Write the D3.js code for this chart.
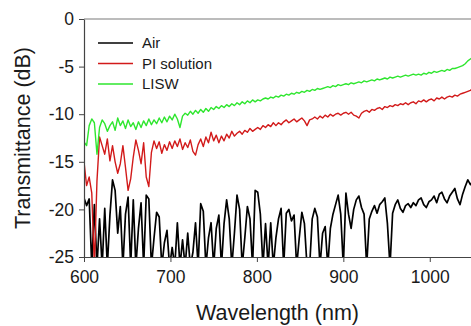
<!DOCTYPE html>
<html>
<head>
<meta charset="utf-8">
<script src="https://cdn.jsdelivr.net/npm/d3@7"></script>
<style>
  html, body { margin: 0; padding: 0; background: #fff; }
  svg { display: block; font-family: "Liberation Sans", Arial, sans-serif; }
</style>
</head>
<body>
<div id="chart"></div>
<script>
// sampling grid (nm)
const wavelength = [
  600, 603, 606, 609, 612, 615, 618, 621, 624, 627,
  630, 633, 636, 639, 642, 645, 648, 651, 654, 657,
  660, 663, 666, 669, 672, 675, 678, 681, 684, 687,
  690, 693, 696, 699, 702, 705, 708, 711, 714, 717,
  720, 723, 726, 729, 732, 735, 738, 741, 744, 747,
  750, 753, 756, 759, 762, 765, 768, 771, 774, 777,
  780, 783, 786, 789, 792, 795, 798, 801, 804, 807,
  810, 813, 816, 819, 822, 825, 828, 831, 834, 837,
  840, 843, 846, 849, 852, 855, 858, 861, 864, 867,
  870, 873, 876, 879, 882, 885, 888, 891, 894, 897,
  900, 903, 906, 909, 912, 915, 918, 921, 924, 927,
  930, 933, 936, 939, 942, 945, 948, 951, 954, 957,
  960, 963, 966, 969, 972, 975, 978, 981, 984, 987,
  990, 993, 996, 999, 1002, 1005, 1008, 1011, 1014, 1017,
  1020, 1023, 1026, 1029, 1032, 1035, 1038, 1041, 1044, 1047,
  1050
];

// transmittance (dB)
const air = [
  -18.8, -19.6, -18.9, -26, -19.5, -26, -21.0, -26, -19.9, -26,
  -20.6, -16.9, -18.0, -22.5, -19.7, -26, -20.5, -18.7, -26, -19.0,
  -26, -22.0, -19.3, -26, -18.5, -18.9, -26, -23.0, -20.3, -20.8,
  -26, -23.5, -22.2, -26, -24.0, -26, -21.4, -26, -23.2, -26,
  -22.5, -26, -24.5, -21.4, -26, -19.4, -20.2, -26, -23.0, -21.4,
  -26, -22.0, -20.6, -26, -21.5, -19.0, -21.0, -26, -22.5, -18.5,
  -20.0, -26, -23.0, -19.7, -21.0, -26, -18.0, -18.2, -20.5, -26,
  -21.5, -26, -21.4, -26, -23.0, -21.0, -19.9, -26, -20.4, -20.0,
  -21.2, -20.6, -26, -23.0, -20.3, -21.5, -26, -26, -21.0, -19.9,
  -20.8, -26, -22.5, -21.8, -26, -22.0, -20.5, -19.5, -18.5, -20.5,
  -26, -18.3, -20.5, -22.0, -20.0, -19.0, -18.6, -19.8, -20.5, -26,
  -21.0, -20.2, -19.6, -20.4, -19.5, -19.2, -18.8, -21.5, -26, -20.4,
  -19.5, -19.0, -19.9, -20.3, -19.6, -19.4, -19.8, -19.3, -19.6, -19.0,
  -18.8, -19.5, -19.8, -19.2, -19.0, -18.6, -19.3, -18.4, -18.2, -18.9,
  -19.3, -18.6, -18.2, -17.8, -18.9, -19.5, -18.4, -17.6, -16.9, -17.4,
  -17.0
];

const piSolution = [
  -15.0, -17.5, -16.6, -18.3, -26, -17.0, -12.4, -13.3, -14.2, -12.6,
  -14.9, -13.3, -15.0, -16.2, -15.2, -13.3, -15.6, -18.0, -16.8, -14.5,
  -12.7, -13.8, -15.2, -13.0, -16.6, -17.6, -14.0, -12.8, -13.6, -12.9,
  -14.1, -13.2, -13.8, -12.9, -13.6, -12.8, -13.4, -12.6, -13.7, -13.0,
  -13.5, -12.7, -13.9, -14.3, -13.2, -12.6, -13.4, -12.4, -13.0, -11.9,
  -12.8, -12.2, -13.0, -12.3, -12.8, -12.1, -12.5, -11.8, -12.3, -12.0,
  -11.8, -12.1, -11.7, -11.9, -11.5, -11.8, -11.6, -11.4, -11.6, -11.2,
  -11.4, -11.1, -11.3, -10.9, -11.2, -10.9, -11.1, -10.8, -10.6, -10.9,
  -10.7, -10.5, -10.8, -10.6, -10.4, -10.7, -11.2, -10.6, -10.5, -10.3,
  -10.5, -10.2, -10.4, -10.1, -10.3, -10.0, -10.2, -10.0, -9.9, -10.1,
  -9.9, -9.8, -10.0, -9.8, -10.1, -10.2, -10.4, -9.9, -9.7, -9.6,
  -9.8, -9.5, -9.6, -9.4, -9.3, -9.5, -9.2, -9.3, -9.1, -9.2,
  -9.0, -9.1, -8.9, -9.0, -8.8, -9.0, -8.8, -8.7, -8.9, -8.6,
  -8.7, -8.5, -8.7, -8.5, -8.4, -8.6, -8.3, -8.4, -8.2, -8.4,
  -8.2, -8.1, -8.2, -8.0, -8.1, -7.9, -7.8, -7.7, -7.6, -7.5,
  -7.3
];

const lisw = [
  -12.9, -13.3, -11.2, -10.5, -10.9, -14.2, -11.4, -10.6, -11.0, -11.8,
  -11.2, -10.8, -11.7, -10.4, -11.2, -10.7, -11.5, -10.6, -11.3, -10.9,
  -11.6, -10.8, -11.4, -10.7, -11.2, -10.5, -11.1, -10.6, -11.0, -10.4,
  -10.9, -10.3, -10.8, -10.2, -10.6, -10.0, -10.5, -11.4, -10.2, -9.9,
  -10.1, -9.7, -10.0, -9.6, -9.9, -9.5, -9.8, -9.4, -9.7, -9.3,
  -9.5, -9.2, -9.4, -9.1, -9.3, -9.0, -9.2, -8.9, -9.1, -8.8,
  -9.0, -8.7, -8.9, -8.6, -8.8, -8.5, -8.7, -8.5, -8.6, -8.4,
  -8.3, -8.4, -8.2, -8.3, -8.1, -8.2, -8.0, -8.1, -7.9, -8.0,
  -7.8, -7.9, -7.7, -7.8, -7.6, -7.7, -7.5, -7.6, -7.4, -7.5,
  -7.3, -7.4, -7.3, -7.2, -7.1, -7.2, -7.0, -7.1, -6.9, -7.0,
  -6.9, -6.8, -6.9, -6.7, -6.8, -6.7, -6.6, -6.7, -6.5, -6.6,
  -6.5, -6.4, -6.5, -6.3, -6.4, -6.3, -6.2, -6.3, -6.1, -6.2,
  -6.1, -6.0, -6.1, -6.0, -5.9, -6.0, -5.9, -5.8, -5.9, -5.8,
  -5.9, -5.7, -5.8, -5.6, -5.7, -5.5, -5.6, -5.5, -5.4, -5.5,
  -5.3, -5.4, -5.2, -5.2, -5.1, -5.0, -4.9, -4.7, -4.4, -4.2,
  -4.0
];

const seriesNames = ['Air', 'PI solution', 'LISW'];
const seriesColors = ['#000000', '#d21a1a', '#2ee62e'];
const xTicks = [600, 700, 800, 900, 1000];
const yTicks = [0, -5, -10, -15, -20, -25];

const config = {
  totalWidth: 471,
  totalHeight: 326,
  margin: {top: 19, right: -2, bottom: 69, left: 84}
};
config.width = config.totalWidth - config.margin.left - config.margin.right;
config.height = config.totalHeight - config.margin.top - config.margin.bottom;

const xScale = d3.scaleLinear().domain([600, 1050]).range([0, config.width]);
const yScale = d3.scaleLinear().domain([-25, 0]).range([config.height, 0]);

const svg = d3.select('#chart').append('svg')
  .attr('width', config.totalWidth)
  .attr('height', config.totalHeight);

const g = svg.append('g')
  .attr('transform', `translate(${config.margin.left},${config.margin.top})`);

g.append('clipPath').attr('id', 'plotClip')
  .append('rect')
  .attr('width', config.width)
  .attr('height', config.height);

// top frame
g.append('line')
  .attr('x1', 0).attr('x2', config.width)
  .attr('y1', 0).attr('y2', 0)
  .attr('stroke', '#7a7a7a')
  .attr('stroke-width', 1.2);

const line = d3.line()
  .x((d, i) => xScale(wavelength[i]))
  .y(d => yScale(d));

const lines = g.append('g').attr('clip-path', 'url(#plotClip)');
[air, piSolution, lisw].forEach((values, k) => {
  lines.append('path')
    .datum(values)
    .attr('fill', 'none')
    .attr('stroke', seriesColors[k])
    .attr('stroke-width', k === 0 ? 1.7 : 1.4)
    .attr('stroke-linejoin', 'round')
    .attr('d', line);
});

// axes
const plainNumber = d => String(d);
const xAxis = g.append('g')
  .attr('transform', `translate(0,${config.height})`)
  .call(d3.axisBottom(xScale).tickValues(xTicks).tickFormat(plainNumber)
    .tickSize(5).tickPadding(9).tickSizeOuter(0));
const yAxis = g.append('g')
  .call(d3.axisLeft(yScale).tickValues(yTicks).tickFormat(plainNumber)
    .tickSize(5).tickPadding(5).tickSizeOuter(0));

[xAxis, yAxis].forEach(axis => {
  axis.select('.domain').attr('stroke', '#444').attr('stroke-width', 1.2);
  axis.selectAll('.tick line').attr('stroke', '#444');
  axis.selectAll('.tick text')
    .attr('fill', '#1a1a1a')
    .style('font-size', '17.5px')
    .style('font-family', '"Liberation Sans", Arial, sans-serif');
});

// axis titles
svg.append('text')
  .attr('x', config.margin.left + (config.totalWidth - config.margin.left) / 2)
  .attr('y', 320)
  .attr('text-anchor', 'middle')
  .attr('fill', '#1a1a1a')
  .style('font-size', '21.5px')
  .text('Wavelength (nm)');

svg.append('text')
  .attr('transform', `translate(30,${config.margin.top + config.height / 2}) rotate(-90)`)
  .attr('text-anchor', 'middle')
  .attr('fill', '#1a1a1a')
  .style('font-size', '21.5px')
  .text('Transmittance (dB)');

// legend
const legend = svg.append('g').attr('transform', 'translate(98,43)');
seriesNames.forEach((name, k) => {
  const row = legend.append('g').attr('transform', `translate(0,${k * 20.5})`);
  row.append('line')
    .attr('x1', 0).attr('x2', 35)
    .attr('stroke', seriesColors[k])
    .attr('stroke-width', 1.5);
  row.append('text')
    .attr('x', 44)
    .attr('dy', '0.35em')
    .attr('fill', '#1a1a1a')
    .style('font-size', '15px')
    .text(name);
});
</script>
</body>
</html>
